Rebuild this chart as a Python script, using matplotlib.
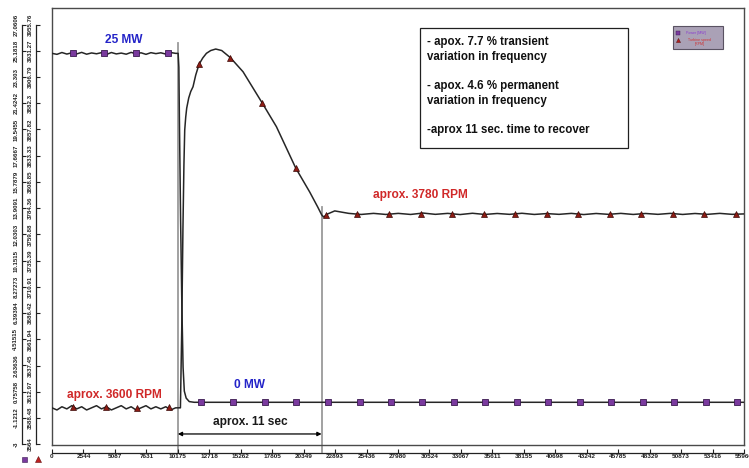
import matplotlib
matplotlib.use("Agg")
import matplotlib.pyplot as plt
from matplotlib.patches import Rectangle
from matplotlib.lines import Line2D

plt.rcParams['font.family'] = ['Liberation Sans', 'DejaVu Sans']

# ---------------- data ----------------
x_ticks = [0, 2544, 5087, 7631, 10175, 12718, 15262, 17805, 20349, 22893, 25436,
           27980, 30524, 33067, 35611, 38155, 40698, 43242, 45785, 48329, 50873,
           53416, 55960]
power_ticks = [-3, -1.1212, 0.75758, 2.63636, 4.51515, 6.39394, 8.27273, 10.1515,
               12.0303, 13.9091, 15.7879, 17.6667, 19.5455, 21.4242, 23.303,
               25.1818, 27.0606]
power_tick_labels = ["-3", "-1.1212", "0.75758", "2.63636", "4.51515", "6.39394",
                     "8.27273", "10.1515", "12.0303", "13.9091", "15.7879",
                     "17.6667", "19.5455", "21.4242", "23.303", "25.1818", "27.0606"]
rpm_ticks = [3564, 3588.48, 3612.97, 3637.45, 3661.94, 3686.42, 3710.91, 3735.39,
             3759.88, 3784.36, 3808.85, 3833.33, 3857.82, 3882.3, 3906.79,
             3931.27, 3955.76]
rpm_tick_labels = ["3564", "3588.48", "3612.97", "3637.45", "3661.94", "3686.42",
                   "3710.91", "3735.39", "3759.88", "3784.36", "3808.85", "3833.33",
                   "3857.82", "3882.3", "3906.79", "3931.27", "3955.76"]

power_t = [0, 400, 800, 1200, 1600, 2000, 2400, 2800, 3200, 3600, 4000, 4400, 4800,
           5200, 5600, 6000, 6400, 6800, 7200, 7600, 8000, 8400, 8800, 9200, 9600,
           10000, 10200, 10260, 10300, 10400, 10500, 10600, 10700, 10850, 11100,
           11500, 55960]
power_mw = [25.0, 24.93, 25.06, 24.95, 25.04, 24.96, 25.07, 24.94, 25.03, 24.97,
            25.05, 24.92, 25.06, 24.96, 25.02, 24.94, 25.07, 24.97, 25.04, 24.93,
            25.05, 24.98, 25.04, 24.95, 25.06, 25.0, 25.0, 24.0, 20.5, 13.0, 7.0,
            2.5, 0.8, 0.3, 0.05, 0.0, 0.0]

rpm_t = [0, 400, 800, 1200, 1600, 2000, 2400, 2800, 3200, 3600, 4000, 4400, 4800,
         5200, 5600, 6000, 6400, 6800, 7200, 7600, 8000, 8400, 8800, 9200, 9600,
         10000, 10300, 10385, 10490, 10587, 10668, 10733, 10814, 10894, 11056,
         11218, 11404, 11622, 11889, 12188, 12488, 12835, 13240, 13725, 14429,
         15448, 17017, 18149, 19710, 20842, 21490, 21813, 21975, 22298, 22865,
         23500, 24000, 25000, 26000, 27000, 28000, 29000,
         30000, 31000, 32000, 33000, 34000, 35000, 36000, 37000, 38000, 39000,
         40000, 41000, 42000, 43000, 44000, 45000, 46000, 47000, 48000, 49000,
         50000, 51000, 52000, 53000, 54000, 55000, 55960]
rpm_val = [3598, 3596, 3599, 3597, 3600, 3597, 3599, 3596, 3598, 3600, 3597, 3599,
           3596, 3598, 3600, 3597, 3599, 3596, 3598, 3600, 3597, 3599, 3597, 3599,
           3596, 3598, 3598, 3598, 3670.6, 3764, 3824.6, 3857.3, 3869.4, 3877.8,
           3887.2, 3893.2, 3897.7, 3908.6, 3918.6, 3924.5, 3928.9, 3931.5, 3932.9,
           3931.5, 3924.8, 3911.7, 3882.2, 3860.4, 3821.8, 3799.4, 3785.4, 3778,
           3776.1, 3779, 3781.8, 3780.5, 3779.5, 3778.5, 3779.5, 3778.5, 3779.5,
           3778.5, 3779.8, 3778.6, 3779.5, 3778.4, 3779.6, 3778.5, 3779.4, 3778.6,
           3779.6, 3778.5, 3779.3, 3778.6, 3779.5, 3778.4, 3779.4, 3778.6, 3779.5,
           3778.5, 3779.4, 3778.6, 3779.5, 3778.5, 3779.4, 3778.6, 3779.5, 3778.6,
           3779]

sq_t = [1700, 4245, 6800, 9360, 12080, 14640, 17200, 19770, 22320, 24870, 27410,
        29960, 32500, 35050, 37590, 40140, 42680, 45230, 47770, 50320, 52860, 55400]
sq_mw = [25, 25, 25, 25, 0, 0, 0, 0, 0, 0, 0, 0, 0, 0, 0, 0, 0, 0, 0, 0, 0, 0]

tri_t = [1700, 4400, 6900, 9460, 11889, 14429, 17017, 19710, 22190, 24670, 27260,
         29800, 32350, 34920, 37460, 40010, 42560, 45100, 47650, 50200, 52740, 55290]
tri_rpm = [3599, 3599, 3598, 3599, 3918.6, 3924.8, 3882.2, 3821.8, 3778, 3779,
           3779, 3779, 3779, 3779, 3779, 3779, 3779, 3779, 3779, 3779, 3779, 3779]

event_t = [10175, 21800]

# ---------------- layout helpers ----------------
W, H = 749, 468
def fx(px):
    return px / W
def fy(py):
    return 1 - py / H

fig = plt.figure(figsize=(W / 100, H / 100), dpi=100)
rect = [fx(52), fy(445), 692 / W, 437 / H]

power_lim = (-3.06, 28.25)
rpm_lim = (3563.3, 3971.2)

ax = fig.add_axes(rect)
ax.set_xlim(0, 55960)
ax.set_ylim(*power_lim)
ax.set_xticks([])
ax.set_yticks([])
for s in ax.spines.values():
    s.set_color('#4a4a4a')
    s.set_linewidth(1.0)

line_col = '#262626'
ax.plot(power_t, power_mw, color=line_col, lw=1.1, zorder=3)
ax.plot(sq_t, sq_mw, ls='none', marker='s', ms=4.2, mfc='#7a3a9e',
        mec='#3a1a50', mew=0.6, zorder=4)

ax2 = ax.twinx()
ax2.set_ylim(*rpm_lim)
ax2.set_yticks([])
for s in ax2.spines.values():
    s.set_visible(False)
ax2.plot(rpm_t, rpm_val, color=line_col, lw=1.1, zorder=3)
ax2.plot(tri_t, tri_rpm, ls='none', marker='^', ms=4.8, mfc='#8e1c14',
         mec='#3a0a08', mew=0.5, zorder=4)

# vertical event lines
ax.axvline(event_t[0], ymin=-0.016, ymax=0.92, color='#9a9a9a', lw=1.3,
           clip_on=False, zorder=2)
ax.axvline(event_t[1], ymin=-0.016, ymax=0.545, color='#9a9a9a', lw=1.3,
           clip_on=False, zorder=2)

# double arrow
ax.annotate('', xy=(event_t[1], -2.27), xytext=(event_t[0], -2.27),
            arrowprops=dict(arrowstyle='<|-|>', color='black', lw=0.9,
                            mutation_scale=6, shrinkA=0, shrinkB=0))

# ---------------- texts ----------------
blue = '#2323c8'
red = '#d02828'
fs = 8.6
fig.text(fx(124), fy(40), '25 MW', color=blue, fontsize=fs, fontweight='bold',
         ha='center', va='center')
fig.text(fx(249.5), fy(384.5), '0 MW', color=blue, fontsize=fs, fontweight='bold',
         ha='center', va='center')
fig.text(fx(114), fy(395), 'aprox. 3600 RPM', color=red, fontsize=fs,
         fontweight='bold', ha='center', va='center')
fig.text(fx(420), fy(194.5), 'aprox. 3780 RPM', color=red, fontsize=fs,
         fontweight='bold', ha='center', va='center')
fig.text(fx(250), fy(421.5), 'aprox. 11 sec', color='#1a1a1a', fontsize=fs,
         fontweight='bold', ha='center', va='center')

# annotation box
fig.add_artist(Rectangle((fx(420), fy(148)), 208 / W, 120 / H,
                         transform=fig.transFigure, facecolor='white',
                         edgecolor='#202020', lw=0.9, zorder=5))
box_lines = [("- apox. 7.7 % transient", 42), ("variation in frequency", 57),
             ("- apox. 4.6 % permanent", 86), ("variation in frequency", 101),
             ("-aprox 11 sec. time to recover", 130)]
for txt, yy in box_lines:
    fig.text(fx(427), fy(yy), txt, color='#111111', fontsize=8.3,
             fontweight='bold', ha='left', va='center', zorder=6)

# small legend box
fig.add_artist(Rectangle((fx(673), fy(48.5)), 50 / W, 22.5 / H,
                         transform=fig.transFigure, facecolor='#aaa1b6',
                         edgecolor='#5a5262', lw=0.8, zorder=5))
fig.add_artist(Line2D([fx(678)], [fy(32.7)], transform=fig.transFigure,
                      marker='s', ms=2.6, mfc='#7a3a9e', mec='#3a1a50',
                      mew=0.3, ls='none', zorder=6))
fig.add_artist(Line2D([fx(678)], [fy(40)], transform=fig.transFigure,
                      marker='^', ms=3.0, mfc='#b02020', mec='#501010',
                      mew=0.3, ls='none', zorder=6))
fig.text(fx(686), fy(32.7), 'Power [MW]', color='#8a3ad0', fontsize=2.6,
         ha='left', va='center', zorder=6)
fig.text(fx(700), fy(40), 'Turbine speed', color='#d03030', fontsize=2.6,
         ha='center', va='center', zorder=6)
fig.text(fx(700), fy(44.5), '[RPM]', color='#d03030', fontsize=2.6,
         ha='center', va='center', zorder=6)

# ---------------- left y axes ----------------
def side_axis(lim, ticks, labels, outward_px, bounds, pad_px):
    a = fig.add_axes(rect)
    a.patch.set_visible(False)
    a.set_ylim(*lim)
    a.set_xticks([])
    for k in ('top', 'right', 'bottom'):
        a.spines[k].set_visible(False)
    sp = a.spines['left']
    sp.set_position(('outward', outward_px * 0.72))
    sp.set_bounds(*bounds)
    sp.set_color('#222222')
    sp.set_linewidth(0.9)
    a.set_yticks(ticks)
    a.set_yticklabels(labels, fontsize=4.4, fontweight='bold', rotation=90,
                      va='center')
    a.tick_params(axis='y', direction='in', length=3.2, width=0.8,
                  pad=pad_px * 0.72, colors='#222222')
    return a

side_axis(power_lim, power_ticks, power_tick_labels, 29.7, (-3, 27.0606), 4.0)
side_axis(rpm_lim, rpm_ticks, rpm_tick_labels, 16.0, (3564, 3955.76), 3.3)

# bottom-left series markers
fig.add_artist(Line2D([fx(24)], [fy(459)], transform=fig.transFigure,
                      marker='s', ms=3.6, mfc='#7a3a9e', mec='#3a1a50',
                      mew=0.4, ls='none'))
fig.add_artist(Line2D([fx(38)], [fy(459)], transform=fig.transFigure,
                      marker='^', ms=4.0, mfc='#c02020', mec='#601010',
                      mew=0.4, ls='none'))

# ---------------- x axis (below frame) ----------------
axx = fig.add_axes([fx(52), fy(453), 692 / W, 0.0001])
axx.patch.set_visible(False)
axx.set_xlim(0, 55960)
axx.set_yticks([])
for k in ('top', 'right', 'left'):
    axx.spines[k].set_visible(False)
axx.spines['bottom'].set_color('#222222')
axx.spines['bottom'].set_linewidth(0.9)
axx.set_xticks(x_ticks)
axx.set_xticklabels([str(v) for v in x_ticks], fontsize=4.6, fontweight='bold')
axx.tick_params(axis='x', direction='in', length=3.2, width=0.8, pad=0.8,
                colors='#222222')

fig.savefig('out.png', dpi=100)
